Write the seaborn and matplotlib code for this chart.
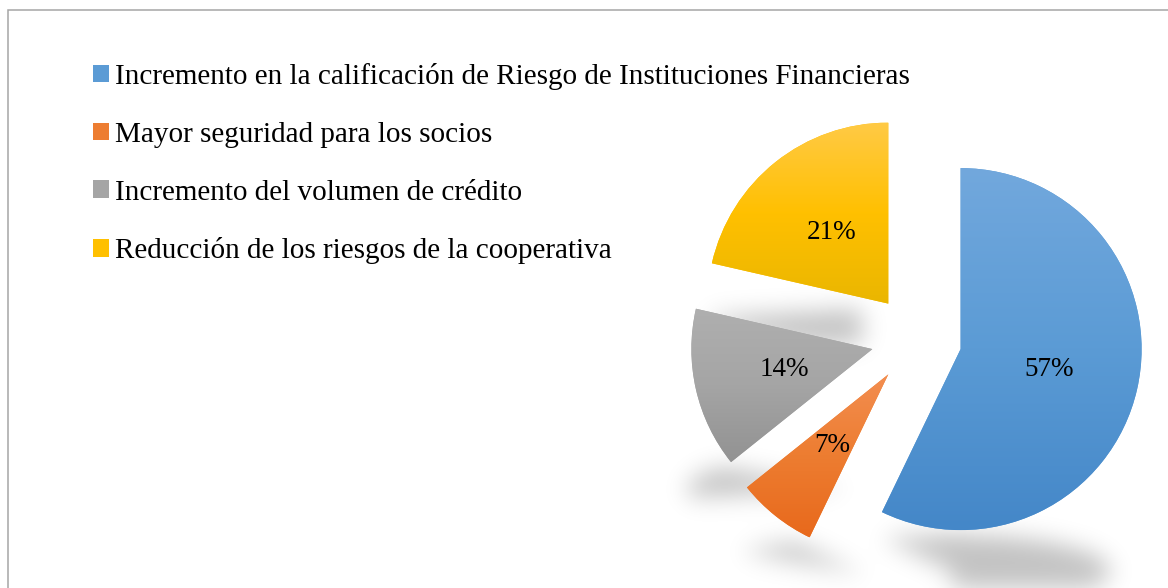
import numpy as np
import matplotlib
matplotlib.use('Agg')
import matplotlib.pyplot as plt
import matplotlib.colors as mcolors
import seaborn as sns

# data
categories = ['Incremento en la calificación de Riesgo de Instituciones Financieras',
              'Mayor seguridad para los socios',
              'Incremento del volumen de crédito',
              'Reducción de los riesgos de la cooperativa']
shares = [57.1, 7.1, 14.3, 21.4]

# base, light (top) and dark (bottom) tones of each slice
base_colors = ['#5B9BD5', '#ED7D31', '#A5A5A5', '#FFC000']
light_colors = ['#72A8DD', '#F38E51', '#AFAFAF', '#FFCA45']
dark_colors = ['#4487C8', '#E8691C', '#929292', '#EAB600']


def gaussian_blur(img, sigma):
    r = int(3 * sigma)
    k = np.exp(-0.5 * (np.arange(-r, r + 1) / sigma) ** 2)
    k /= k.sum()
    img = np.apply_along_axis(lambda v: np.convolve(v, k, mode='same'), 0, img)
    img = np.apply_along_axis(lambda v: np.convolve(v, k, mode='same'), 1, img)
    return img


def add_gradient(ax, wedge, light, base, dark):
    ext = wedge.get_path().get_extents()
    cmap = mcolors.LinearSegmentedColormap.from_list('g', [dark, base, light])
    grad = np.linspace(0, 1, 256).reshape(-1, 1)
    im = ax.imshow(grad, cmap=cmap, origin='lower', aspect='auto',
                   extent=(ext.x0, ext.x1, ext.y0, ext.y1), zorder=1.1,
                   interpolation='bilinear')
    im.set_clip_path(wedge)


def add_shadows(ax, wedges, xlim, ylim, w, h):
    # soft, flattened shadow under every slice
    xs = np.linspace(xlim[0], xlim[1], w)
    ys = np.linspace(ylim[0], ylim[1], h)
    X, Y = np.meshgrid(xs, ys)
    mask = np.zeros_like(X)
    sx, sy, gap, shift = 0.88, 0.2, 0.03, -0.08
    for wd in wedges:
        path = wd.get_path()
        ext = path.get_extents()
        xc = (ext.x0 + ext.x1) / 2
        ybot = ext.y0
        ox = xc + (X - xc - shift) / sx
        oy = ybot - (Y - ybot + gap) / sy
        inside = path.contains_points(np.column_stack([ox.ravel(), oy.ravel()]))
        mask = np.maximum(mask, inside.reshape(X.shape).astype(float))
    mask = gaussian_blur(mask, 6)
    rgba = np.zeros((h, w, 4))
    rgba[..., 3] = 0.24 * mask
    ax.imshow(rgba, origin='lower', extent=(xlim[0], xlim[1], ylim[0], ylim[1]),
              aspect='auto', zorder=0.5, interpolation='bilinear')


def main():
    sns.set_theme(style='white')
    plt.rcParams['font.family'] = ['Liberation Serif', 'DejaVu Serif']
    plt.rcParams['text.color'] = 'black'

    W, H = 1168, 588
    fig = plt.figure(figsize=(W / 100, H / 100), dpi=100)
    ax = fig.add_axes([0, 0, 1, 1])

    total = sum(shares)
    wedges, texts, autotexts = ax.pie(
        shares, explode=[0.25] * len(shares), colors=base_colors,
        startangle=90, counterclock=False,
        autopct=lambda p: '{:.0f}%'.format(p * total / 100),
        pctdistance=0.5, wedgeprops={'linewidth': 0},
        textprops={'fontsize': 19.5, 'color': 'black'})
    for t in autotexts:
        t.set_zorder(3)

    # pie radius 181 px, unexploded centre at (916.5, 339) px
    r = 181.0
    xlim = (-916.5 / r, (W - 916.5) / r)
    ylim = (-(H - 339) / r, 339 / r)
    ax.set_xlim(*xlim)
    ax.set_ylim(*ylim)
    ax.axis('off')

    for wd, lc, bc, dc in zip(wedges, light_colors, base_colors, dark_colors):
        add_gradient(ax, wd, lc, bc, dc)
    add_shadows(ax, wedges, xlim, ylim, W // 2, H // 2)

    fig.legend(wedges, categories, loc='upper left',
               bbox_to_anchor=(93 / W, 1 - 63 / H), frameon=False,
               fontsize=21, handlelength=0.55, handleheight=0.55,
               handletextpad=0.2, labelspacing=1.09, borderpad=0,
               borderaxespad=0, labelcolor='black')

    border = plt.Rectangle((7.5 / W, -0.1), 1.2, 1.1 - 10.5 / H,
                           transform=fig.transFigure, fill=False,
                           edgecolor='#A6A6A6', linewidth=1.1)
    fig.add_artist(border)

    fig.savefig('out.png', dpi=100)
    plt.close(fig)


if __name__ == '__main__':
    main()
